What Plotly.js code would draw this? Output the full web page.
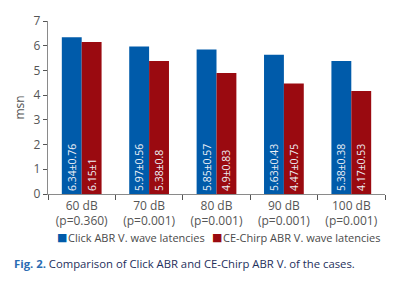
<!DOCTYPE html>
<html>
<head>
<meta charset="utf-8">
<script src="https://cdn.plot.ly/plotly-3.0.1.min.js"></script>
<style>
  html, body { margin: 0; padding: 0; background: #fff; }
  #chart { width: 403px; height: 292px; }
</style>
</head>
<body>
<div id="chart"></div>
<script>
// Stimulus levels with their p-values (two-line category labels)
const categories = ['60 dB<br>(p=0.360)', '70 dB<br>(p=0.001)', '80 dB<br>(p=0.001)', '90 dB<br>(p=0.001)', '100 dB<br>(p=0.001)'];

// Mean V. wave latencies (msn) and standard deviations
const clickMean = [6.34, 5.97, 5.85, 5.63, 5.38];
const clickSD = [0.76, 0.56, 0.57, 0.43, 0.38];
const chirpMean = [6.15, 5.38, 4.9, 4.47, 4.17];
const chirpSD = [1, 0.8, 0.83, 0.75, 0.53];

const seriesNames = ['Click ABR V. wave latencies', 'CE-Chirp ABR V. wave latencies'];
const seriesColors = ['#005BAA', '#9A0A10'];

const yTicks = [0, 1, 2, 3, 4, 5, 6, 7];

const fontFamily = '"Open Sans", "Noto Sans", sans-serif';

function labelsFor(means, sds) {
  return means.map((m, i) => m + '±' + sds[i]);
}

const barText = {
  textposition: 'inside',
  insidetextanchor: 'start',
  textangle: -90,
  textfont: { family: fontFamily, size: 10.5, color: '#eef0f6' },
  hoverinfo: 'skip'
};

const traces = [
  Object.assign({
    type: 'bar',
    name: seriesNames[0],
    x: categories,
    y: clickMean,
    text: labelsFor(clickMean, clickSD),
    marker: { color: seriesColors[0] }
  }, barText),
  Object.assign({
    type: 'bar',
    name: seriesNames[1],
    x: categories,
    y: chirpMean,
    text: labelsFor(chirpMean, chirpSD),
    marker: { color: seriesColors[1] }
  }, barText)
];

// Plot area in pixels, used to place the key and the caption under the axes
const W = 403, H = 292;
const M = { l: 48, r: 18, t: 21, b: 98 };
const pw = W - M.l - M.r, ph = H - M.t - M.b;
const px = x => (x - M.l) / pw;
const py = y => (H - M.b - y) / ph;

// Compact key: colour swatch followed by the series name
const keyItems = [
  { swatchX: 55, labelX: 66 },
  { swatchX: 210, labelX: 221 }
];
const keyAnnotations = [];
keyItems.forEach((k, i) => {
  keyAnnotations.push({
    xref: 'paper', yref: 'paper', x: px(k.swatchX), y: py(237),
    xanchor: 'left', yanchor: 'middle', showarrow: false,
    text: '■', font: { family: 'DejaVu Sans', size: 11, color: seriesColors[i] }
  });
  keyAnnotations.push({
    xref: 'paper', yref: 'paper', x: px(k.labelX), y: py(237),
    xanchor: 'left', yanchor: 'middle', showarrow: false,
    text: seriesNames[i], font: { family: fontFamily, size: 11, color: '#4a4a4a' }
  });
});

const layout = {
  width: W,
  height: H,
  margin: M,
  paper_bgcolor: '#ffffff',
  plot_bgcolor: '#ffffff',
  font: { family: fontFamily, size: 12, color: '#555555' },
  barmode: 'group',
  bargap: 0.41,
  bargroupgap: 0,
  showlegend: false,
  xaxis: {
    type: 'category',
    showline: true,
    linecolor: '#8a8a8a',
    linewidth: 1.2,
    ticks: 'outside',
    tickson: 'boundaries',
    ticklen: 5,
    tickcolor: '#555555',
    tickfont: { family: fontFamily, size: 12, color: '#555555' },
    showgrid: false,
    zeroline: false
  },
  yaxis: {
    range: [0, 7],
    tickvals: yTicks,
    ticktext: yTicks.map(String),
    showline: true,
    linecolor: '#8a8a8a',
    linewidth: 1.2,
    ticks: 'outside',
    ticklen: 4,
    tickcolor: '#555555',
    tickfont: { family: fontFamily, size: 12, color: '#555555' },
    showgrid: false,
    zeroline: false,
    title: { text: 'msn', font: { family: fontFamily, size: 12, color: '#555555' }, standoff: 6 }
  },
  annotations: keyAnnotations.concat([{
    xref: 'paper',
    yref: 'paper',
    x: px(12),
    y: py(263),
    xanchor: 'left',
    yanchor: 'middle',
    showarrow: false,
    align: 'left',
    text: '<b><span style="color:#2a6cb3">Fig. 2.</span></b> Comparison of Click ABR and CE-Chirp ABR V. of the cases.',
    font: { family: fontFamily, size: 11.3, color: '#1e2f5c' }
  }])
};

Plotly.newPlot('chart', traces, layout, { displayModeBar: false, staticPlot: true });
</script>
</body>
</html>
